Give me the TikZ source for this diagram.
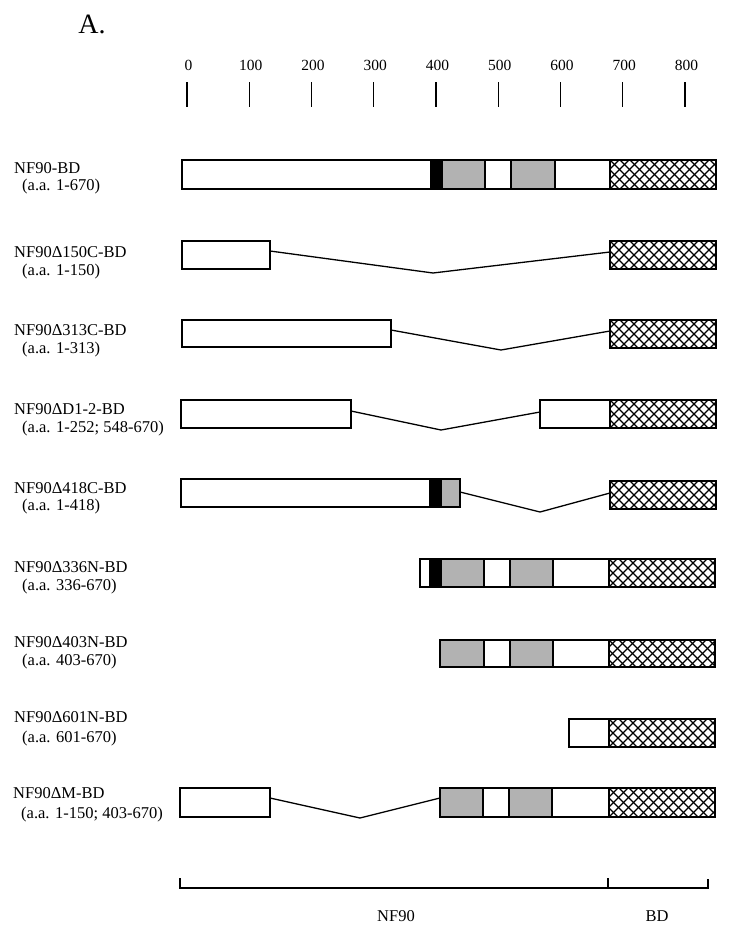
\documentclass[tikz,border=0pt]{standalone}
\usepackage{fontspec}
\setmainfont{Liberation Serif}
\begin{document}
\begin{tikzpicture}[x=1pt,y=-1pt,
  seg/.style={draw=black,line width=1.3pt,inner sep=0pt,outer sep=0pt,rectangle},
  whiteseg/.style={seg,fill=white},
  grayseg/.style={seg,fill=black!30},
  blackseg/.style={seg,fill=black},
  hatchseg/.style={seg,fill=white,path picture={
      \foreach \k in {-4,...,12}{
        \draw[line width=1.1pt] ([xshift=\k*10pt]path picture bounding box.south west) -- ++(34pt,34pt);
        \draw[line width=1.1pt] ([xshift=\k*10pt]path picture bounding box.north west) -- ++(34pt,-34pt);
      }}},
  lab/.style={font=\fontsize{16.5}{18}\selectfont,anchor=base west,inner sep=0pt},
  ticklab/.style={font=\fontsize{15.5}{17}\selectfont,inner sep=0pt},
  link/.style={line width=1.3pt},
  rule/.style={line width=1.3pt}
]
\useasboundingbox (0,0) rectangle (736,937);
\newcommand\seg[6][]{\node[#1,minimum width={(#4-#3)*1pt},minimum height={(#6-#5)*1pt}] (#2) at ({(#3+#4)/2},{(#5+#6)/2}) {};}

% title
\node[font=\fontsize{28}{30}\selectfont,inner sep=0pt] (title) at (92,24) {A.};

% scale
\foreach \v [count=\i from 0] in {0,100,200,300,400,500,600,700,800}{
  \node[ticklab] (tl\i) at ({188.5+62.25*\i},65) {\v};
  \coordinate (tt\i) at ({187+62.25*\i},82);
  \coordinate (tb\i) at ({187+62.25*\i},107);
  \draw[line width=1.2pt] (tt\i) -- (tb\i);
}

% Row 1: NF90-BD
\node[lab] (l1a) at (14,173) {NF90-BD};
\node[lab] (l1b) at (22,190) {(a.a. 1-670)};
\seg[whiteseg]{r1a}{182}{431}{160}{189}
\seg[blackseg]{r1b}{431}{442}{160}{189}
\seg[grayseg]{r1c}{442}{485}{160}{189}
\seg[whiteseg]{r1d}{485}{511}{160}{189}
\seg[grayseg]{r1e}{511}{555}{160}{189}
\seg[whiteseg]{r1f}{555}{610}{160}{189}
\seg[hatchseg]{r1g}{610}{716}{160}{189}

% Row 2
\node[lab] (l2a) at (14,257) {NF90Δ150C-BD};
\node[lab] (l2b) at (22,275) {(a.a. 1-150)};
\seg[whiteseg]{r2a}{182}{270}{241}{269}
\seg[hatchseg]{r2g}{610}{716}{241}{269}
\coordinate (v2) at (433,273);
\draw[link] ([yshift=4pt]r2a.east) -- (v2) -- ([yshift=3pt]r2g.west);

% Row 3
\node[lab] (l3a) at (14,335) {NF90Δ313C-BD};
\node[lab] (l3b) at (22,353) {(a.a. 1-313)};
\seg[whiteseg]{r3a}{182}{391}{320}{347}
\seg[hatchseg]{r3g}{610}{716}{320}{348}
\coordinate (v3) at (501,350);
\draw[link] ([yshift=3.5pt]r3a.east) -- (v3) -- ([yshift=3pt]r3g.west);

% Row 4
\node[lab] (l4a) at (14,414) {NF90ΔD1-2-BD};
\node[lab] (l4b) at (22,432) {(a.a. 1-252; 548-670)};
\seg[whiteseg]{r4a}{181}{351}{400}{428}
\seg[whiteseg]{r4f}{540}{610}{400}{428}
\seg[hatchseg]{r4g}{610}{716}{400}{428}
\coordinate (v4) at (441,430);
\draw[link] ([yshift=3pt]r4a.east) -- (v4) -- ([yshift=2pt]r4f.west);

% Row 5
\node[lab] (l5a) at (14,493) {NF90Δ418C-BD};
\node[lab] (l5b) at (22,510) {(a.a. 1-418)};
\seg[whiteseg]{r5a}{181}{430}{479}{507}
\seg[blackseg]{r5b}{430}{441}{479}{507}
\seg[grayseg]{r5c}{441}{460}{479}{507}
\seg[hatchseg]{r5g}{610}{716}{481}{509}
\coordinate (v5) at (540,512);
\draw[link] ([yshift=1pt]r5c.east) -- (v5) -- ([yshift=2pt]r5g.west);

% Row 6
\node[lab] (l6a) at (14,572) {NF90Δ336N-BD};
\node[lab] (l6b) at (22,590) {(a.a. 336-670)};
\seg[whiteseg]{r6a}{420}{430}{559}{587}
\seg[blackseg]{r6b}{430}{441}{559}{587}
\seg[grayseg]{r6c}{441}{484}{559}{587}
\seg[whiteseg]{r6d}{484}{510}{559}{587}
\seg[grayseg]{r6e}{510}{553}{559}{587}
\seg[whiteseg]{r6f}{553}{609}{559}{587}
\seg[hatchseg]{r6g}{609}{715}{559}{587}

% Row 7
\node[lab] (l7a) at (14,647) {NF90Δ403N-BD};
\node[lab] (l7b) at (22,665) {(a.a. 403-670)};
\seg[grayseg]{r7c}{440}{484}{640}{667}
\seg[whiteseg]{r7d}{484}{510}{640}{667}
\seg[grayseg]{r7e}{510}{553}{640}{667}
\seg[whiteseg]{r7f}{553}{609}{640}{667}
\seg[hatchseg]{r7g}{609}{715}{640}{667}

% Row 8
\node[lab] (l8a) at (14,722) {NF90Δ601N-BD};
\node[lab] (l8b) at (22,742) {(a.a. 601-670)};
\seg[whiteseg]{r8f}{569}{609}{719}{747}
\seg[hatchseg]{r8g}{609}{715}{719}{747}

% Row 9
\node[lab] (l9a) at (13,798) {NF90ΔM-BD};
\node[lab] (l9b) at (21,818) {(a.a. 1-150; 403-670)};
\seg[whiteseg]{r9a}{180}{270}{788}{817}
\seg[grayseg]{r9c}{440}{483}{788}{817}
\seg[whiteseg]{r9d}{483}{509}{788}{817}
\seg[grayseg]{r9e}{509}{552}{788}{817}
\seg[whiteseg]{r9f}{552}{609}{788}{817}
\seg[hatchseg]{r9g}{609}{715}{788}{817}
\coordinate (v9) at (360,818);
\draw[link] ([yshift=4.5pt]r9a.east) -- (v9) -- ([yshift=4.5pt]r9c.west);

% bottom bracket
\coordinate (bl) at (180,888);
\coordinate (bm) at (608,888);
\coordinate (br) at (708,888);
\draw[rule] (180,878) -- (bl) -- (bm) -- (br) -- (708,879);
\draw[rule] (bm) -- (608,878);
\node[font=\fontsize{16.5}{18}\selectfont,inner sep=0pt] (nf) at (396,916) {NF90};
\node[font=\fontsize{16.5}{18}\selectfont,inner sep=0pt] (bd) at (657,916) {BD};
\end{tikzpicture}
\end{document}
